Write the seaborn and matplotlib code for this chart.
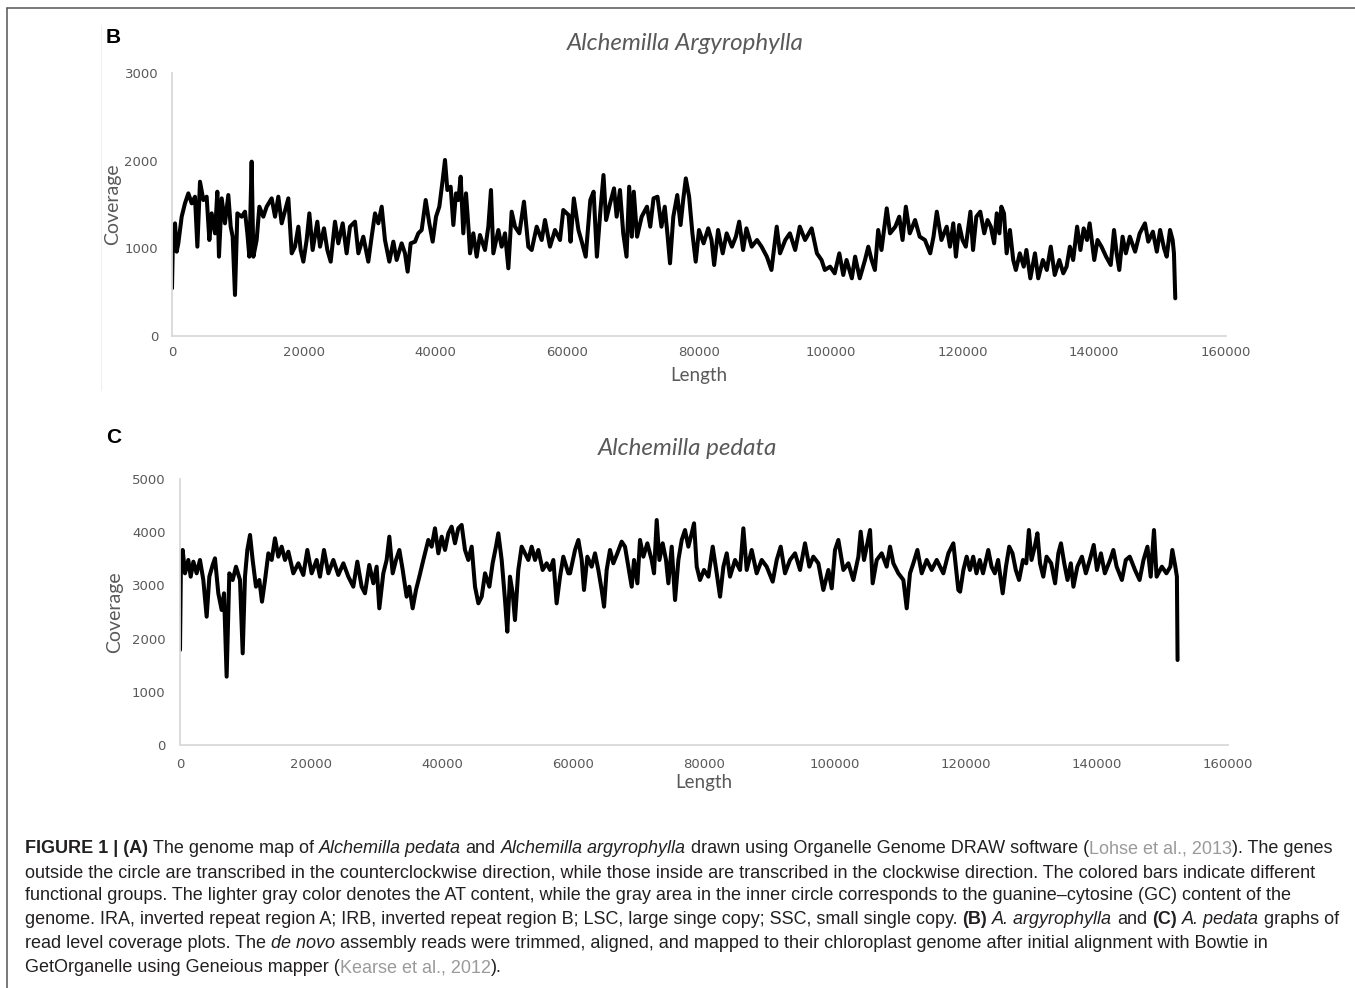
import matplotlib
matplotlib.use("Agg")
import matplotlib.pyplot as plt
import seaborn as sns
import pandas as pd
from matplotlib.lines import Line2D

# ---------------- data ----------------
# Panel B: Alchemilla argyrophylla, position (kb) and read coverage
b_length_kb = [
    0, 0.1, 0.46, 0.71, 0.96, 1.47, 1.97, 2.48, 2.99, 3.49,
    3.85, 4.25, 4.76, 5.26, 5.67, 6.02, 6.53, 6.88, 7.13, 7.54,
    8.04, 8.55, 8.91, 9.21, 9.56, 9.92, 10.58, 11.08, 11.44, 11.74,
    12.09, 12.35, 12.85, 13.26, 13.86, 14.37, 15.13, 15.64, 16.14, 16.65,
    17.66, 18.17, 18.67, 19.18, 19.53, 19.94, 20.44, 20.85, 21.35, 22.06,
    22.47, 23.07, 23.58, 24.09, 24.74, 25.25, 25.91, 26.51, 27.02, 27.78,
    28.29, 29.04, 29.80, 30.31, 30.82, 31.32, 31.83, 32.33, 32.99, 33.60,
    34.10, 34.86, 35.37, 35.77, 36.23, 36.89, 37.39, 37.90, 38.51, 39.06,
    39.57, 40.08, 40.58, 41.09, 41.44, 41.80, 42.30, 42.71, 43.11, 43.47,
    43.82, 44.22, 44.63, 45.03, 45.24, 45.74, 46.25, 46.75, 47.51, 48.02,
    48.42, 48.78, 49.54, 50.04, 50.55, 51.06, 51.56, 52.07, 52.73, 53.43,
    54.09, 54.60, 55.36, 56.12, 56.62, 57.38, 58.14, 58.90,
    59.4, 60.2, 60.5, 61.0, 61.7, 62.2, 62.8, 63.5, 64.0, 64.5,
    65.0, 65.5, 65.9, 66.5, 67.1, 67.5, 68.0, 68.5, 69.0, 69.4,
    69.8, 70.1, 70.6, 71.3, 72.1, 72.6, 73.1, 73.7, 74.3, 74.8,
    75.2, 75.6, 76.1, 76.7, 77.2, 77.6, 78.0, 78.5, 79.0, 79.5,
    80.0, 80.7, 81.4, 81.9, 82.3, 82.9, 83.6, 84.2, 85.0, 85.6,
    86.1, 86.7, 87.2, 88.0, 88.8, 89.5, 90.3, 91.0, 91.8, 92.3,
    93.1, 93.8, 94.6, 95.3, 96.1, 97.1, 97.9, 98.6, 99.1, 99.9,
    100.6, 101.3, 101.9, 102.4, 103.2, 103.7, 104.4, 105.2, 105.7, 106.2,
    106.7, 107.2, 107.7, 108.5, 109.0, 109.8, 110.4, 110.9, 111.4, 112.0,
    112.8, 113.5, 114.3, 115.1, 115.6, 116.1, 116.8, 117.6,
    118.1, 118.6, 119.0, 119.5, 120.0, 120.5, 121.2, 121.6, 122.1, 122.7,
    123.3, 123.8, 124.3, 124.8, 125.2, 125.6, 125.9, 126.3, 126.7, 127.2,
    127.7, 128.1, 128.7, 129.3, 129.7, 130.3, 131.0, 131.5, 132.2, 132.8,
    133.4, 134.0, 134.7, 135.3, 135.8, 136.3, 136.8, 137.4, 137.9, 138.4,
    138.9, 139.3, 140.0, 140.5, 141.1, 141.8, 142.5, 143.0, 143.4, 143.8,
    144.3, 144.8, 145.4, 146.2, 146.9, 147.7, 148.2, 148.9, 149.5, 150.0,
    150.6, 151.0, 151.5, 151.9, 152.1, 152.3,
]
b_coverage = [
    544, 943, 1285, 962, 1057, 1361, 1513, 1627, 1513, 1589,
    1019, 1760, 1551, 1589, 1095, 1399, 1171, 1646, 905, 1570,
    1285, 1608, 1247, 1133, 468, 1399, 1361, 1418, 1171, 905,
    1989, 905, 1095, 1475, 1361, 1475, 1570, 1361, 1589, 1285,
    1570, 943, 1019, 1247, 981, 848, 1095, 1399, 981, 1304,
    1019, 1228, 981, 848, 1304, 1057, 1285, 943, 1247, 1304,
    943, 1133, 848, 1133, 1399, 1285, 1475, 1095, 848, 1076,
    867, 1057, 943, 734, 1057, 1076, 1171, 1209, 1551, 1285,
    1076, 1361, 1475, 1779, 2008, 1665, 1703, 1266, 1627, 1551,
    1817, 1171, 1627, 1209, 943, 1171, 905, 1152, 981, 1247,
    1665, 943, 1209, 1019, 1171, 772, 1418, 1247, 1171, 1532,
    1019, 981, 1247, 1095, 1323, 1019, 1209, 1095,
    1437, 1380, 1076, 1570, 1209, 1076, 905, 1551, 1646, 905,
    1399, 1836, 1323, 1513, 1684, 1361, 1665, 1171, 905, 1703,
    1133, 1646, 1133, 1361, 1475, 1247, 1570, 1589, 1247, 1475,
    1171, 829, 1361, 1608, 1266, 1551, 1798, 1589, 1171, 848,
    1209, 1057, 1228, 1095, 810, 1209, 943, 1171, 1019, 1133,
    1304, 981, 1228, 1019, 1095, 1019, 905, 753, 1247, 943,
    1095, 1171, 981, 1247, 1095, 1228, 943, 867, 753, 791,
    715, 943, 696, 867, 658, 905, 658, 867, 1019, 867,
    753, 1209, 981, 1456, 1171, 1247, 1361, 1095, 1475, 1171,
    1323, 1133, 1095, 943, 1133, 1418, 1095, 1247,
    1019, 1285, 905, 1266, 1095, 1019, 1418, 981, 1361, 1418,
    1171, 1323, 1247, 1057, 1399, 1171, 1475, 1399, 943, 1209,
    867, 753, 943, 791, 981, 658, 943, 658, 867, 753,
    1019, 696, 867, 715, 791, 1019, 867, 1247, 981, 1228,
    1095, 1285, 867, 1095, 1019, 905, 810, 1209, 943, 753,
    1133, 943, 1133, 962, 1171, 1285, 1076, 1190, 962, 1209,
    1000, 905, 1209, 1095, 943, 430,
]

# Panel C: Alchemilla pedata, position (kb) and read coverage
c_length_kb = [
    0.0, 0.15, 0.41, 0.76, 1.27, 1.63, 2.04, 2.54, 3.05, 3.56,
    4.07, 4.48, 4.99, 5.34, 5.85, 6.36, 6.72, 7.12, 7.53, 8.04,
    8.55, 9.16, 9.57, 9.92, 10.28, 10.69, 11.09, 11.6, 12.11, 12.52,
    12.98, 13.49, 14.0, 14.5, 15.01, 15.52, 16.03, 16.54, 17.3, 18.07,
    18.83, 19.44, 20.1, 20.86, 21.37, 21.98, 22.65, 23.41, 24.17, 24.94,
    25.7, 26.46, 27.07, 27.73, 28.24, 28.9, 29.52, 30.02, 30.43, 31.04,
    31.55, 31.96, 32.47, 32.98, 33.49, 34.0, 34.6, 35.01, 35.52, 36.03,
    36.54, 37.15, 37.91, 38.42, 38.93, 39.44, 39.95, 40.46, 40.97, 41.47,
    41.98, 42.49, 43.0, 43.51, 44.02, 44.53, 45.04, 45.55, 46.06, 46.57,
    47.23, 47.73, 48.24, 48.6, 49.11, 49.62, 49.97, 50.38, 50.79, 51.14,
    51.65, 52.16, 52.67, 53.18, 53.69, 54.2, 54.71, 55.37, 55.98, 56.49,
    57.0, 57.5, 58.02, 58.52, 59.29,
    59.55, 60.31, 60.82, 61.33, 61.68, 62.19, 62.85, 63.36, 63.87, 64.38,
    64.74, 65.14, 65.65, 66.16, 66.77, 67.43, 67.94, 68.45, 68.96, 69.32,
    69.83, 70.23, 70.74, 71.35, 72.01, 72.37, 72.78, 73.19, 73.69, 74.2,
    74.56, 75.07, 75.58, 76.09, 76.6, 77.1, 77.61, 78.12, 78.48, 78.89,
    79.39, 80.0, 80.67, 81.33, 81.94, 82.45, 82.96, 83.47, 83.97, 84.74,
    85.5, 86.01, 86.52, 87.28, 88.04, 88.81, 89.57, 90.49, 91.1, 91.71,
    92.37, 93.13, 93.9, 94.66, 95.42, 96.08, 96.69, 97.46, 98.22, 98.99,
    99.5, 100.0, 100.51, 101.28, 102.04, 102.8, 103.57, 103.92, 104.43, 104.94,
    105.35, 105.75, 106.37, 107.13, 107.89, 108.4, 108.91, 109.67, 110.44, 110.95,
    111.45, 111.96, 112.58, 113.24, 114.0, 114.76, 115.53, 116.54, 117.31, 118.07,
    118.83,
    119.1, 119.6, 120.1, 120.6, 121.1, 121.6, 122.1, 122.6, 123.4, 123.9,
    124.4, 124.9, 125.6, 126.1, 126.6, 127.1, 127.6, 128.1, 128.7, 129.2,
    129.6, 130.0, 130.5, 130.9, 131.3, 131.8, 132.3, 133.0, 133.6, 134.1,
    134.5, 135.0, 135.5, 136.0, 136.4, 137.0, 137.7, 138.3, 138.9, 139.5,
    140.0, 140.6, 141.2, 142.0, 142.5, 143.0, 143.8, 144.4, 145.0, 145.8,
    146.5, 147.1, 147.7, 148.2, 148.7, 149.1, 149.9, 150.6, 151.2, 151.5,
    151.96, 152.2, 152.3,
]
c_coverage = [
    1786, 3478, 3666, 3227, 3478, 3164, 3446, 3227, 3478, 3102,
    2412, 3164, 3384, 3509, 2851, 2538, 2851, 1285, 3227, 3102,
    3352, 3102, 1723, 3164, 3666, 3948, 3478, 2976, 3102, 2694,
    3102, 3603, 3478, 3885, 3540, 3728, 3478, 3634, 3227, 3415,
    3196, 3666, 3227, 3478, 3164, 3666, 3227, 3478, 3196, 3415,
    3164, 2976, 3446, 2976, 2851, 3384, 3039, 3352, 2569, 3227,
    3478, 3916, 3227, 3478, 3666, 3290, 2788, 2976, 2569, 2914,
    3164, 3478, 3854, 3728, 4073, 3603, 3916, 3666, 3979, 4104,
    3791, 4073, 4136, 3666, 3478, 3728, 2976, 2663, 2788, 3227,
    2976, 3415, 3728, 3979, 3478, 2725, 2130, 3164, 2851, 2349,
    3290, 3728, 3603, 3478, 3728, 3478, 3666, 3290, 3415, 3290,
    3478, 2663, 3164, 3540, 3227,
    3227, 3666, 3854, 3478, 2914, 3540, 3352, 3603, 3290, 2914,
    2600, 3290, 3666, 3415, 3603, 3822, 3728, 3352, 2976, 3478,
    3039, 3854, 3540, 3791, 3478, 3227, 4229, 3478, 3791, 3478,
    3039, 3728, 2725, 3478, 3854, 4041, 3728, 3979, 4167, 3352,
    3102, 3290, 3164, 3728, 3227, 2788, 3352, 3603, 3164, 3478,
    3290, 4073, 3290, 3666, 3227, 3478, 3352, 3070, 3478, 3728,
    3227, 3478, 3603, 3290, 3791, 3352, 3540, 3415, 2914, 3290,
    2945, 3666, 3854, 3290, 3415, 3102, 3540, 4010, 3478, 3791,
    4041, 3039, 3478, 3603, 3352, 3728, 3415, 3227, 3102, 2569,
    3227, 3415, 3666, 3227, 3478, 3290, 3478, 3227, 3603, 3791,
    2914,
    2882, 3290, 3540, 3290, 3540, 3227, 3478, 3227, 3666, 3352,
    3227, 3478, 2851, 3352, 3728, 3603, 3290, 3102, 3478, 3415,
    4041, 3478, 3728, 3979, 3415, 3164, 3540, 3415, 3039, 3603,
    3791, 3415, 3102, 3415, 2976, 3352, 3540, 3227, 3478, 3760,
    3290, 3603, 3227, 3478, 3666, 3352, 3102, 3478, 3540, 3290,
    3102, 3478, 3728, 3164, 4041, 3164, 3352, 3227, 3352, 3666,
    3352, 3164, 1598,
]

x_ticks = [0, 20000, 40000, 60000, 80000, 100000, 120000, 140000, 160000]
b_y_ticks = [0, 1000, 2000, 3000]
c_y_ticks = [0, 1000, 2000, 3000, 4000, 5000]
b_title = "Alchemilla Argyrophylla"
c_title = "Alchemilla pedata"

assert len(b_length_kb) == len(b_coverage), (len(b_length_kb), len(b_coverage))
assert len(c_length_kb) == len(c_coverage), (len(c_length_kb), len(c_coverage))

df_b = pd.DataFrame({"Length": [v * 1000 for v in b_length_kb], "Coverage": b_coverage})
df_c = pd.DataFrame({"Length": [v * 1000 for v in c_length_kb], "Coverage": c_coverage})

# ---------------- figure ----------------
W, H, DPI = 1355, 988, 100
sns.set_theme(style="white")
plt.rcParams['font.family'] = ['Lato', 'DejaVu Sans']

fig = plt.figure(figsize=(W / DPI, H / DPI), dpi=DPI)
fig.patch.set_facecolor("white")

def fx(x):
    return x / W

def fy(y):
    return 1 - y / H

GRAY = "#595959"
AXIS_GRAY = "#d9d9d9"
TICK_FAMILY = ["DejaVu Sans"]

def make_ax(left, top, right, bottom):
    return fig.add_axes([fx(left), fy(bottom), fx(right) - fx(left), fy(top) - fy(bottom)])

panels = [
    dict(df=df_b, box=(172, 73, 1226, 336), yticks=b_y_ticks, title=b_title,
         title_xy=(685, 43), letter="B", letter_xy=(106, 43),
         ylab_x=113, xlab_y=376, ypad=10, xpad=7.5),
    dict(df=df_c, box=(180, 479, 1228, 745), yticks=c_y_ticks, title=c_title,
         title_xy=(687, 448), letter="C", letter_xy=(106, 443),
         ylab_x=115, xlab_y=782, ypad=10.5, xpad=9.5),
]

for p in panels:
    left, top, right, bottom = p["box"]
    ax = make_ax(left, top, right, bottom)
    sns.lineplot(data=p["df"], x="Length", y="Coverage", ax=ax, color="black",
                 linewidth=2.9, estimator=None, sort=False)
    ax.set_xlim(0, 160000)
    ax.set_ylim(0, p["yticks"][-1])
    ax.set_xticks(x_ticks)
    ax.set_xticklabels([str(t) for t in x_ticks], family=TICK_FAMILY)
    ax.set_yticks(p["yticks"])
    ax.set_yticklabels([str(t) for t in p["yticks"]], family=TICK_FAMILY)
    ax.tick_params(axis="both", length=0, colors=GRAY, labelsize=9.5)
    ax.tick_params(axis="y", pad=p["ypad"])
    ax.tick_params(axis="x", pad=p["xpad"])
    ax.grid(False)
    ax.set_facecolor("none")
    for s in ("top", "right"):
        ax.spines[s].set_visible(False)
    for s in ("left", "bottom"):
        ax.spines[s].set_color(AXIS_GRAY)
        ax.spines[s].set_linewidth(1.3)
    ax.set_xlabel("Length", color=GRAY, fontsize=13.5)
    ax.set_ylabel("Coverage", color=GRAY, fontsize=14)
    ax.xaxis.label.set_verticalalignment("center")
    ax.yaxis.label.set_verticalalignment("center")
    ax.xaxis.set_label_coords(((left + right) / 2 - left) / (right - left),
                              (bottom - p["xlab_y"]) / (bottom - top))
    ax.yaxis.set_label_coords((p["ylab_x"] - left) / (right - left), 0.5)
    fig.text(fx(p["title_xy"][0]), fy(p["title_xy"][1]), p["title"], style="italic",
             color=GRAY, fontsize=17.4, ha="center", va="center")
    fig.text(fx(p["letter_xy"][0]), fy(p["letter_xy"][1]), p["letter"], weight="bold",
             family=["Liberation Sans", "DejaVu Sans"], color="black", fontsize=15,
             ha="left", va="baseline")

# frame lines of the figure page
fig.add_artist(Line2D([fx(7), fx(7)], [fy(8), fy(988)], color="#555555", lw=1.1))
fig.add_artist(Line2D([fx(7), fx(1355)], [fy(8), fy(8)], color="#555555", lw=1.1))
fig.add_artist(Line2D([fx(101), fx(101)], [fy(25), fy(390)], color="#f1f1f1", lw=0.8))

# ---------------- caption ----------------
CAP_COLOR = "#231f20"
LINK_COLOR = "#9a9a9a"
CAP_FAMILY = ["Liberation Sans", "DejaVu Sans"]

caption_lines = [
    [("FIGURE 1 | (A)", "b"), (" The genome map of ", "n"), ("Alchemilla pedata", "i"),
     (" and ", "n"), ("Alchemilla argyrophylla", "i"),
     (" drawn using Organelle Genome DRAW software (", "n"), ("Lohse et al., 2013", "g"),
     ("). The genes", "n")],
    [("outside the circle are transcribed in the counterclockwise direction, while those inside are "
      "transcribed in the clockwise direction. The colored bars indicate different", "n")],
    [("functional groups. The lighter gray color denotes the AT content, while the gray area in the "
      "inner circle corresponds to the guanine\u2013cytosine (GC) content of the", "n")],
    [("genome. IRA, inverted repeat region A; IRB, inverted repeat region B; LSC, large singe copy; "
      "SSC, small single copy. ", "n"), ("(B)", "b"), (" ", "n"), ("A. argyrophylla", "i"),
     (" and ", "n"), ("(C)", "b"), (" ", "n"), ("A. pedata", "i"), (" graphs of", "n")],
    [("read level coverage plots. The ", "n"), ("de novo", "i"),
     (" assembly reads were trimmed, aligned, and mapped to their chloroplast genome after "
      "initial alignment with Bowtie in", "n")],
    [("GetOrganelle using Geneious mapper (", "n"), ("Kearse et al., 2012", "g"), (").", "n")],
]
caption_baselines = [853, 877, 900, 924, 948, 972]
CAP_X0 = 25
CAP_TARGET_W = 1307

renderer = fig.canvas.get_renderer()

def props(style, size):
    d = dict(family=CAP_FAMILY, color=CAP_COLOR, fontsize=size)
    if style == "b":
        d["weight"] = "bold"
    elif style == "i":
        d["style"] = "italic"
    elif style == "g":
        d["color"] = LINK_COLOR
    return d

def ink_w(s, style, size):
    t = fig.text(0, 0, s, **props(style, size))
    w = t.get_window_extent(renderer).width
    t.remove()
    return w

def adv_w(s, style, size):
    # typographic advance width (spaces included), measured between two bars
    return ink_w("|" + s + "|", style, size) - ink_w("||", style, size)

def layout_line(segs, size, x0, y, draw):
    x = x0
    for s, st in segs:
        if draw and s.strip(" "):
            lead = len(s) - len(s.lstrip(" "))
            xs = x + (adv_w(" " * lead, st, size) if lead else 0)
            fig.text(fx(xs), fy(y), s.strip(" "), ha="left", va="baseline", **props(st, size))
        x += adv_w(s, st, size)
    return x - x0

ref_size = 13.0
w1 = layout_line(caption_lines[0], ref_size, CAP_X0, caption_baselines[0], False)
cap_size = ref_size * CAP_TARGET_W / w1

for segs, yb in zip(caption_lines, caption_baselines):
    layout_line(segs, cap_size, CAP_X0, yb, True)

fig.savefig("out.png", dpi=DPI, facecolor="white")
